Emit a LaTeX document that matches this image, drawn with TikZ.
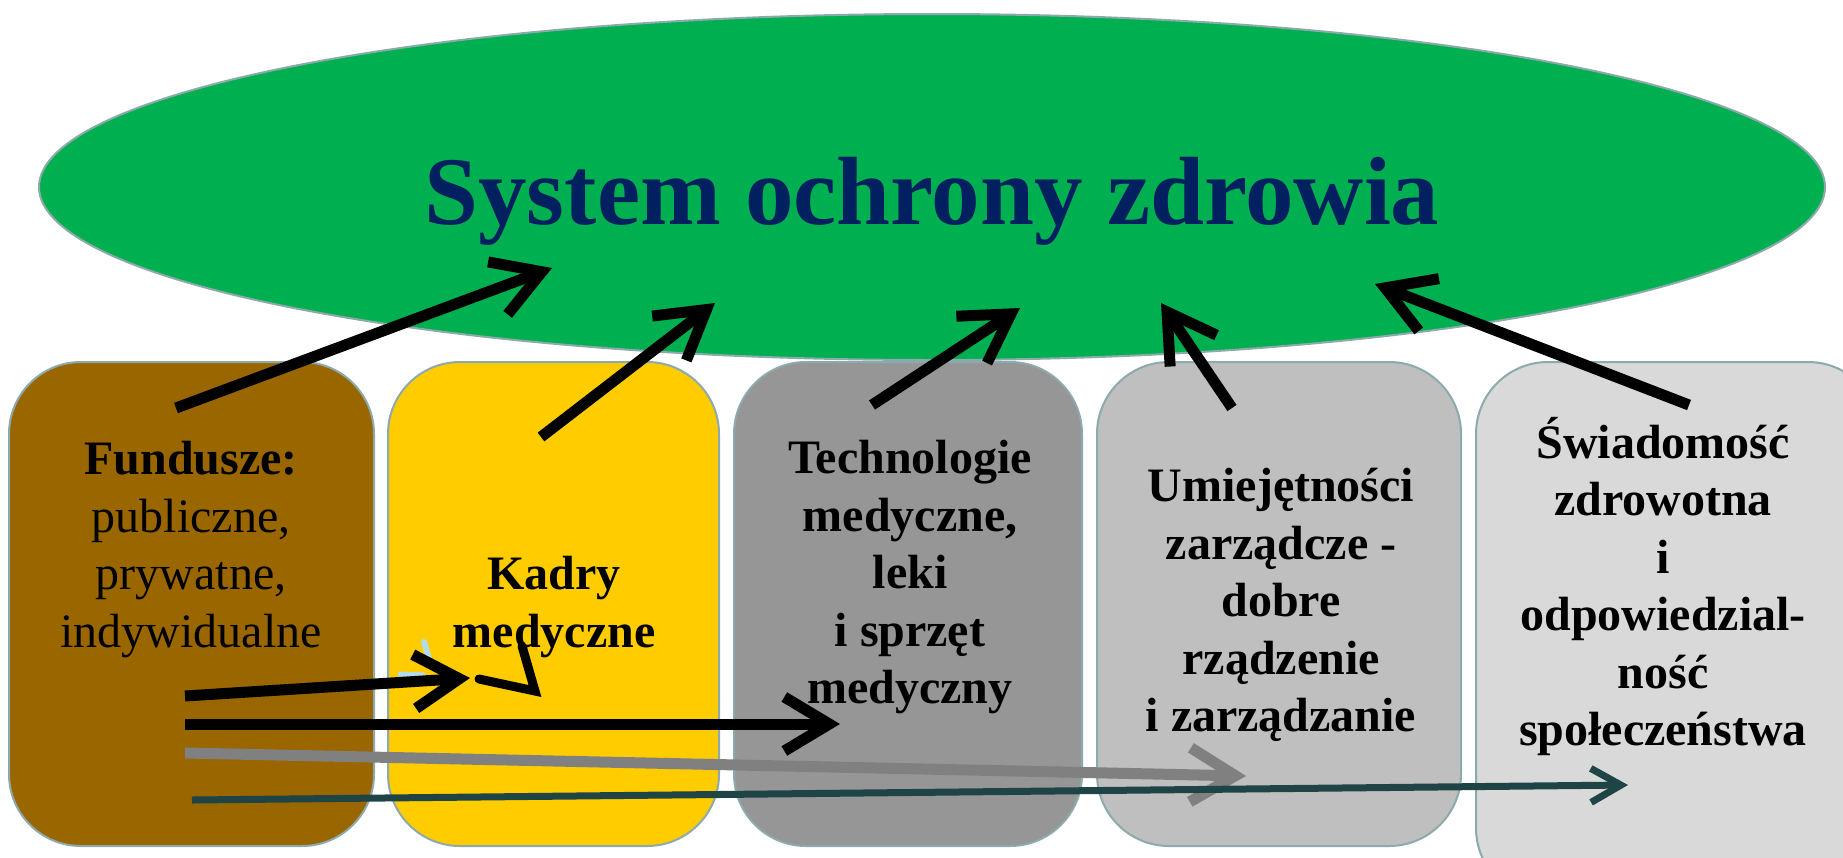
\documentclass[tikz,border=0pt]{standalone}
\usepackage{fontspec}
\setmainfont{Liberation Serif}
\usetikzlibrary{arrows.meta}
\definecolor{ellgreen}{HTML}{00B050}
\definecolor{titleblue}{HTML}{002060}
\definecolor{edgegray}{RGB}{140,170,172}
\definecolor{fundbrown}{HTML}{996600}
\definecolor{kadryyellow}{HTML}{FFCC00}
\definecolor{techgray}{HTML}{969696}
\definecolor{umiegray}{HTML}{BFBFBF}
\definecolor{swiagray}{HTML}{D9D9D9}
\definecolor{arrowgray}{HTML}{808080}
\definecolor{arrowteal}{RGB}{31,68,70}
\definecolor{smudge}{RGB}{180,220,232}
\begin{document}
\begin{tikzpicture}[x=1pt,y=-1pt,
  box/.style={draw=edgegray, line width=2pt, rounded corners=72pt, inner sep=0pt},
  lbl/.style={align=center, inner sep=0pt, font=\fontsize{48}{57.5}\selectfont\bfseries},
  uparrow/.style={line width=11pt, -{Straight Barb[length=47pt,width=56pt]}},
  flowarrow/.style={line width=11pt, -{Straight Barb[length=45pt,width=54pt]}}
]
\useasboundingbox (0,0) rectangle (1843,857);
\clip (0,0) rectangle (1843,857);
% boxes
\node[box, fill=fundbrown, minimum width=365pt, minimum height=484pt] (fund) at (191.5,604) {};
\node[box, fill=kadryyellow, minimum width=331pt, minimum height=484pt] (kadry) at (553.5,604) {};
\node[box, fill=techgray, minimum width=348pt, minimum height=484pt] (tech) at (908,604) {};
\node[box, fill=umiegray, minimum width=364pt, minimum height=484pt] (umie) at (1279,604) {};
\node[box, fill=swiagray, minimum width=404pt, minimum height=538pt] (swia) at (1678,631) {};
% ellipse
\draw[draw=edgegray, line width=2pt, fill=ellgreen] (932,187) ellipse [x radius=893, y radius=173];
\node[anchor=base, inner sep=0pt, text=titleblue, font=\fontsize{97}{110}\selectfont\bfseries] (title) at (932,224) {System ochrony zdrowia};
% labels
\node[lbl] (t1) at (191,549.5) {Fundusze:\\\mdseries publiczne,\\\mdseries prywatne,\\\mdseries indywidualne};
\node[lbl] (t2) at (554,607) {Kadry\\medyczne};
\node[lbl] (t3) at (910,577.5) {Technologie\\medyczne,\\leki\\i sprzęt\\medyczny};
\node[lbl] (t4) at (1281,605) {Umiejętności\\zarządcze -\\dobre\\rządzenie\\i zarządzanie};
\node[lbl] (t5) at (1663,586.5) {Świadomość\\zdrowotna\\i\\odpowiedzial-\\ność\\społeczeństwa};
% arrow end points
\coordinate (a1s) at (176,408); \coordinate (a1e) at (552,268);
\coordinate (a2s) at (541,437); \coordinate (a2e) at (715,303);
\coordinate (a3s) at (872,405); \coordinate (a3e) at (1020,308);
\coordinate (a4s) at (1232,408); \coordinate (a4e) at (1161,303);
\coordinate (a5s) at (1689,405); \coordinate (a5e) at (1375,284);
\draw[uparrow] (a1s) -- (a1e);
\draw[uparrow] (a2s) -- (a2e);
\draw[uparrow] (a3s) -- (a3e);
\draw[uparrow] (a4s) -- (a4e);
\draw[uparrow] (a5s) -- (a5e);
% flow arrows from Fundusze
\coordinate (h1s) at (185,696); \coordinate (h1e) at (470,678);
\coordinate (h2s) at (185,724); \coordinate (h2e) at (840,724);
\coordinate (h3s) at (185,753); \coordinate (h3e) at (1246,776);
\coordinate (h4s) at (192,800); \coordinate (h4e) at (1628,785);
\draw[smudge, line width=6pt, line cap=round] (424,642) -- (430,662);
\draw[smudge, line width=5pt] (398,674) -- (425,675);
\draw[flowarrow] (h1s) -- (h1e);
\coordinate (v1) at (479,679); \coordinate (v2) at (535,691); \coordinate (v3) at (522,646);
\draw[line width=9pt, line cap=round] (v1) -- (v2) -- (v3);
\draw[flowarrow] (h2s) -- (h2e);
\draw[flowarrow, arrowgray] (h3s) -- (h3e);
\draw[line width=7pt, arrowteal, -{Straight Barb[length=30pt,width=34pt]}] (h4s) -- (h4e);
\end{tikzpicture}
\end{document}
